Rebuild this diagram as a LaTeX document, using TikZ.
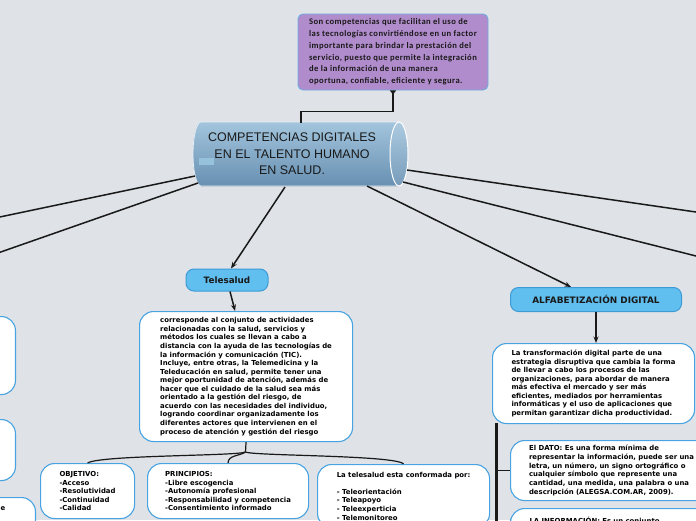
\documentclass[tikz,border=0pt]{standalone}
\usepackage{fontspec}
\setmainfont{DejaVu Sans}
\newfontfamily\carlfont[LetterSpace=5]{Carlito}
\newfontfamily\arialfont{Liberation Sans}
\usetikzlibrary{arrows.meta,calc}
\definecolor{bgc}{RGB}{223,226,231}
\definecolor{purp}{RGB}{177,140,204}
\definecolor{purpline}{RGB}{110,170,225}
\definecolor{boxline}{RGB}{72,163,226}
\definecolor{telefill}{RGB}{96,191,239}
\definecolor{teleline}{RGB}{60,155,215}
\definecolor{cyltop}{RGB}{163,197,221}
\definecolor{cylbot}{RGB}{104,144,178}
\definecolor{cylpatch}{RGB}{150,194,220}
\definecolor{ink}{RGB}{25,25,25}
\begin{document}
\begin{tikzpicture}[x=1pt,y=-1pt,
  conn/.style={draw=ink,line width=1.5pt},
  thinconn/.style={draw=ink,line width=1.2pt},
  arr/.style={conn,-{Stealth[length=6.5pt,width=5pt]}},
  whitebox/.style={draw=boxline,line width=1.1pt,fill=white,rounded corners=14pt,
    font=\fontsize{6.9}{8.55}\selectfont\bfseries,align=left,inner xsep=4pt,inner ysep=2pt,text=black},
  pill/.style={draw=teleline,line width=1pt,fill=telefill,rounded corners=8pt,
    font=\fontsize{8.8}{10}\selectfont\bfseries,inner sep=0pt,text=ink}]
\useasboundingbox (0,0) rectangle (696,520);
\clip (0,0) rectangle (696,520);
\fill[bgc] (0,0) rectangle (696,520);

% ---- cylinder ----
\fill[top color=cyltop,bottom color=cylbot,draw=white!75!cyltop,line width=0.8pt]
  (201,122) -- (399,122) -- (399,186) -- (201,186)
  arc[start angle=270,end angle=90,x radius=8pt,y radius=32pt] -- cycle;
\fill[cylpatch] (199,158) rectangle (214,165);
\draw[white,line width=1pt,top color=cyltop!90!white,bottom color=cylbot!90!white]
  (399,154) ellipse [x radius=9pt,y radius=32pt];
\node[font=\arialfont\fontsize{12.5}{16.5}\selectfont,align=center,text=ink] (cyl) at (292,154)
  {COMPETENCIAS DIGITALES\\EN EL TALENTO HUMANO\\EN SALUD.};

\coordinate (cT) at (301,123);
\coordinate (cL1) at (195,176);
\coordinate (eL1) at (-5,218);
\coordinate (cL2) at (198,183);
\coordinate (eL2) at (-5,254);
\coordinate (cR1) at (407,170);
\coordinate (eR1) at (700,212.6);
\coordinate (cR2) at (403,182);
\coordinate (eR2) at (700,257);
\coordinate (cD) at (285,187);
\coordinate (cA) at (367,186);

% ---- purple box ----
\node[draw=purpline,line width=0.9pt,fill=purp,rounded corners=5pt,
  font=\carlfont\fontsize{8.6}{11.8}\selectfont\bfseries,align=left,text=ink,
  minimum width=190pt,minimum height=76pt,inner sep=3pt] (purple) at (393,52)
  {Son competencias que facilitan el uso de\\
   las tecnologías convirtiéndose en un factor\\
   importante para brindar la prestación del\\
   servicio, puesto que permite la integración\\
   de la información de una manera\\
   oportuna, confiable, eficiente y segura.};

% ---- left partial boxes ----
\node[whitebox,anchor=north east,minimum width=60pt,minimum height=78pt] (lA) at (16,316) {};
\node[whitebox,anchor=north east,minimum width=60pt,minimum height=61pt] (lB) at (16,419) {};
\node[whitebox,anchor=north east,minimum width=100pt,minimum height=40pt] (lC) at (36,497) {};
\node[font=\fontsize{6.9}{8.55}\selectfont\bfseries,anchor=base east,inner sep=0pt] (lCtext) at (5.5,510.5) {e};

% ---- Telesalud ----
\node[pill,minimum width=82pt,minimum height=22pt] (tele) at (227,280) {Telesalud};
\node[whitebox,anchor=north west,minimum width=213pt,minimum height=130pt] (desc) at (139,311)
  {corresponde al conjunto de actividades\\
   relacionadas con la salud, servicios y\\
   métodos los cuales se llevan a cabo a\\
   distancia con la ayuda de las tecnologías de\\
   la información y comunicación (TIC).\\
   Incluye, entre otras, la Telemedicina y la\\
   Teleducación en salud, permite tener una\\
   mejor oportunidad de atención, además de\\
   hacer que el cuidado de la salud sea más\\
   orientado a la gestión del riesgo, de\\
   acuerdo con las necesidades del individuo,\\
   logrando coordinar organizadamente los\\
   diferentes actores que intervienen en el\\
   proceso de atención y gestión del riesgo};

\node[whitebox,anchor=north west,minimum width=94pt,minimum height=55pt] (obj) at (40,463)
  {OBJETIVO:\\-Acceso\\-Resolutividad\\-Continuidad\\-Calidad};
\node[whitebox,anchor=north west,minimum width=161pt,minimum height=55pt] (princ) at (147,463)
  {PRINCIPIOS:\\-Libre escogencia\\-Autonomía profesional\\-Responsabilidad y competencia\\-Consentimiento informado};
\node[whitebox,anchor=north west,minimum width=172pt,minimum height=63pt] (conf) at (317,464)
  {La telesalud esta conformada por:\\[8.55pt]
   - Teleorientación\\- Teleapoyo\\- Teleexperticia\\- Telemonitoreo};

% ---- Alfabetizacion ----
\node[pill,minimum width=171pt,minimum height=24pt,font=\fontsize{8.9}{10}\selectfont\bfseries] (alfa) at (596,299.5)
  {ALFABETIZACIÓN DIGITAL};
\node[whitebox,anchor=north west,minimum width=202pt,minimum height=80pt] (alfadesc) at (492,343)
  {La transformación digital parte de una\\
   estrategia disruptiva que cambia la forma\\
   de llevar a cabo los procesos de las\\
   organizaciones, para abordar de manera\\
   más efectiva el mercado y ser más\\
   eficientes, mediados por herramientas\\
   informáticas y el uso de aplicaciones que\\
   permitan garantizar dicha productividad.};
\node[whitebox,anchor=north west,minimum width=202pt,minimum height=60pt,font=\fontsize{6.9}{8.75}\selectfont\bfseries] (dato) at (510,440)
  {El DATO: Es una forma mínima de\\
   representar la información, puede ser una\\
   letra, un número, un signo ortográfico o\\
   cualquier símbolo que represente una\\
   cantidad, una medida, una palabra o una\\
   descripción (ALEGSA.COM.AR, 2009).};
\node[whitebox,anchor=north west,minimum width=202pt,minimum height=24pt,text width=190pt,inner xsep=19pt] (info) at (510,508)
  {LA INFORMACIÓN: Es un conjunto};

% ---- connectors ----
\draw[conn,{Triangle[reversed,length=4pt,width=6pt]}-] (purple.south) -- ++(0,21) -| (cT);
\draw[conn] (cL1) -- (eL1);
\draw[conn] (cL2) -- (eL2);
\draw[conn] (cR1) -- (eR1);
\draw[conn] (cR2) -- (eR2);
\draw[arr] (cD) -- ([xshift=4pt]tele.north);
\draw[arr] (cA) -- ([xshift=-25pt]alfa.north);
\draw[arr] ([xshift=3pt]tele.south) -- ([xshift=-11pt]desc.north);
\draw[arr] (alfa.south) -- (alfa.south |- alfadesc.north);

\coordinate (split) at (245.5,452);
\draw[thinconn] (desc.south) -- (split);
\draw[thinconn] (split) .. controls (238,456) and (100,455) .. (obj.north);
\draw[thinconn] (split) .. controls (240,456) and (228,455) .. (princ.north);
\draw[thinconn] (split) .. controls (254,456) and (396,455) .. (conf.north);

\coordinate (vtop) at (496,423);
\coordinate (vbot) at (496,530);
\draw[draw=ink,line width=3pt] (vtop) -- (vbot);
\draw[conn] (vtop |- dato.west) -- (dato.west);
\end{tikzpicture}
\end{document}
